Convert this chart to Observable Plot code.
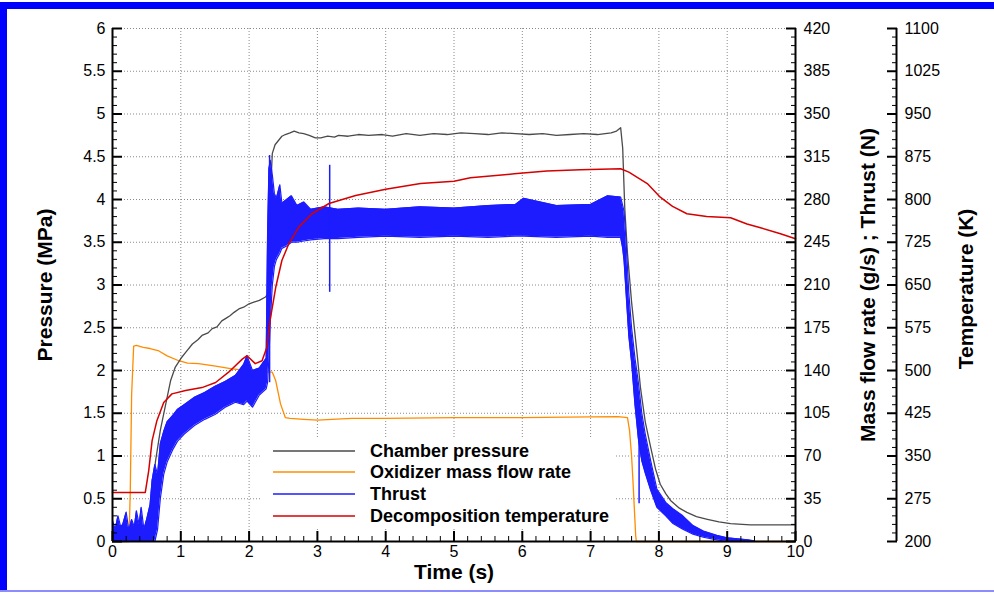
<!DOCTYPE html>
<html><head><meta charset="utf-8">
<script src="https://cdn.jsdelivr.net/npm/d3@7"></script>
<script src="https://cdn.jsdelivr.net/npm/@observablehq/plot@0.6"></script>
<style>
html,body{margin:0;padding:0;background:#fff;}
#wrap{position:relative;width:994px;height:594px;overflow:hidden;font-family:"Liberation Sans",Arial,sans-serif;background:#fff;}
#wrap svg{position:absolute;left:0;top:0;}
.bar{position:absolute;}
#legend{position:absolute;left:262px;top:437px;width:352px;height:91px;background:#fff;}
.sw{position:absolute;left:11px;width:82px;height:2px;}
.lt{position:absolute;left:108px;font-weight:bold;font-size:18px;line-height:20px;white-space:nowrap;color:#000;}
</style></head>
<body><div id="wrap"></div>
<script>
// ---- tick labels ----
const timeTicks = [0,1,2,3,4,5,6,7,8,9,10];
const pressureTicks = [0,0.5,1,1.5,2,2.5,3,3.5,4,4.5,5,5.5,6];
const massTicks = [0,35,70,105,140,175,210,245,280,315,350,385,420];
const tempTicks = [200,275,350,425,500,575,650,725,800,875,950,1025,1100];

// ---- series ----
const seriesNames = ["Chamber pressure","Oxidizer mass flow rate","Thrust","Decomposition temperature"];
const seriesColors = ["#4a4a4a","#ff8c00","#1c1cff","#d60000"];

// Chamber pressure (MPa)
const chamberTime = [0,0.45,0.52,0.57,0.63,0.70,0.78,0.85,0.92,1.00,1.08,1.17,1.25,1.31,1.40,1.46,1.53,1.60,1.66,1.72,1.78,1.85,1.92,2.00,2.07,2.15,2.24,2.28,2.30,2.32,2.34,2.38,2.43,2.48,2.53,2.60,2.66,2.73,2.80,2.88,2.97,3.05,3.15,3.25,3.31,3.45,3.60,3.75,3.95,4.10,4.30,4.50,4.70,4.90,5.10,5.30,5.50,5.70,5.90,6.10,6.30,6.50,6.70,6.90,7.10,7.30,7.38,7.44,7.47,7.50,7.54,7.60,7.68,7.73,7.80,7.88,7.95,8.02,8.10,8.17,8.30,8.41,8.55,8.71,8.88,9.05,9.34,10];
const chamberPressure = [0.1,0.1,0.2,0.5,0.94,1.30,1.61,1.88,2.04,2.14,2.22,2.31,2.36,2.41,2.44,2.49,2.51,2.58,2.61,2.64,2.68,2.72,2.74,2.78,2.80,2.82,2.86,2.90,3.60,4.20,4.54,4.64,4.69,4.74,4.76,4.78,4.80,4.78,4.77,4.75,4.72,4.72,4.74,4.73,4.75,4.74,4.76,4.75,4.76,4.74,4.77,4.75,4.77,4.76,4.78,4.77,4.76,4.78,4.77,4.76,4.77,4.75,4.76,4.77,4.76,4.78,4.80,4.84,4.60,3.90,3.37,2.80,2.20,1.80,1.40,1.10,0.85,0.67,0.56,0.48,0.39,0.34,0.29,0.26,0.23,0.21,0.195,0.195];

// Oxidizer mass flow rate (g/s)
const oxTime = [0,0.24,0.26,0.28,0.31,0.35,0.45,0.55,0.68,0.80,0.97,1.10,1.26,1.51,1.75,2.09,2.34,2.39,2.46,2.53,2.60,2.80,3.00,3.50,4.00,5.00,6.00,7.00,7.40,7.54,7.57,7.60,7.62,7.66,7.67,10];
const oxFlow = [0,0,40,120,160,160.5,159,158,156,152,148,146,145.6,143.5,141.4,139.3,138.6,131.6,112.7,101.5,100.8,100,99.4,100.8,100.8,101.5,101.5,102,102.2,101.5,91,70,50,5,0,0];

// Thrust (N): envelope of the noisy signal
const thrustTime = [0,0.04,0.08,0.12,0.15,0.20,0.24,0.28,0.32,0.35,0.39,0.42,0.46,0.50,0.55,0.58,0.62,0.66,0.70,0.75,0.80,0.88,0.95,1.05,1.20,1.35,1.50,1.65,1.80,1.92,1.97,2.05,2.15,2.25,2.27,2.29,2.31,2.34,2.37,2.40,2.45,2.48,2.55,2.62,2.70,2.80,2.90,3.10,3.30,3.60,4.00,4.50,5.00,5.50,5.90,6.02,6.50,7.00,7.25,7.44,7.47,7.49,7.52,7.56,7.60,7.65,7.70,7.75,7.80,7.88,7.97,8.10,8.20,8.35,8.50,8.65,8.85,9.00,9.30,9.40];
const thrustLow  = [0,0,0,0,0,0,0,0,0,0,0,0,0,0,0,0,0,10,35,55,65,75,82,88,95,100,104,110,114,112,115,110,120,125,130,150,180,210,225,231,236,240,242,245,245,246,247,248,248,249,250,249,250,249,250,250,249,250,249,249,240,230,203,168,147,112,84,66,56,42,28,21,15,10,6,3.5,1.4,0,0,0];
const thrustHigh = [17,10,21,12,14,24,9,18,12,25,14,28,10,18,30,50,63,55,80,90,98,103,108,112,118,122,127,131,136,145,152,140,142,150,250,305,312,300,285,281,292,277,280,283,275,278,272,274,272,273,272,274,273,275,276,281,275,276,283,282,275,270,245,203,175,150,130,105,88,66,43,32,27,21,13,8.5,5,3,1.4,0.5];
// isolated thrust spikes
const spikeTime = [2.30,3.18,7.71];
const spikeLow  = [130,204,31];
const spikeHigh = [316,308,110];

// Decomposition temperature (K)
const tempTime = [0,0.48,0.53,0.58,0.65,0.75,0.87,1.07,1.31,1.51,1.70,1.90,1.97,2.09,2.19,2.26,2.29,2.31,2.39,2.48,2.58,2.73,2.92,3.17,3.56,4.00,4.51,5.00,5.24,5.88,6.36,6.85,7.44,7.56,7.83,8.02,8.20,8.41,8.70,9.05,9.29,9.50,9.78,10];
const tempK = [286,286,324,377,412,444,459,465,470,479,497,520,526,512,517,541,570,590,646,693,722,752,775,793,807,818,828,832,838,845,850,852,854,848,828,804,788,775,770,768,757,750,740,731];

// ---- secondary axes share the pressure scale (0–6 MPa ↔ 0–420 g/s ↔ 200–1100 K) ----
const massPerMPa = 70, tempBase = 200, tempPerMPa = 150;

const chamber = chamberTime.map((t,i)=>({t, v: chamberPressure[i]}));
const ox = oxTime.map((t,i)=>({t, v: oxFlow[i]/massPerMPa}));
const thrust = thrustTime.map((t,i)=>({t, lo: thrustLow[i]/massPerMPa, hi: thrustHigh[i]/massPerMPa}));
const spikes = spikeTime.map((t,i)=>({t, lo: spikeLow[i]/massPerMPa, hi: spikeHigh[i]/massPerMPa}));
const temp = tempTime.map((t,i)=>({t, v: (tempK[i]-tempBase)/tempPerMPa}));

const minorY = d3.range(0, 61).map(i => i/10).filter(v => Math.abs(v*2 - Math.round(v*2)) > 1e-6);
const minorX = d3.range(0, 51).map(i => i/5).filter(v => Math.abs(v - Math.round(v)) > 1e-6);

const tempDx = 101;
const gridStyle = {stroke:"#8a8a8a", strokeOpacity:1, strokeWidth:1, strokeDasharray:"1,2"};
const titleStyle = {text: d=>d, fontSize:21, fontWeight:"bold", textAnchor:"middle"};

const chart = Plot.plot({
  width: 994, height: 594,
  marginLeft: 112, marginRight: 199, marginTop: 28, marginBottom: 53,
  x: {domain: [0,10]},
  y: {domain: [0,6]},
  style: {fontFamily: '"Liberation Sans", Arial, sans-serif', fontSize: "16px", color: "#000", background: "transparent", overflow: "visible"},
  marks: [
    Plot.gridX(timeTicks.slice(1,-1), gridStyle),
    Plot.gridY(pressureTicks.slice(1), gridStyle),
    Plot.lineY(ox, {x:"t", y:"v", stroke: seriesColors[1], strokeWidth: 1.3}),
    Plot.lineY(chamber, {x:"t", y:"v", stroke: seriesColors[0], strokeWidth: 1.3}),
    Plot.areaY(thrust, {x:"t", y1:"lo", y2:"hi", fill: seriesColors[2]}),
    Plot.lineY(thrust, {x:"t", y:"lo", stroke: seriesColors[2], strokeWidth: 1.2}),
    Plot.lineY(thrust, {x:"t", y:"hi", stroke: seriesColors[2], strokeWidth: 1.2}),
    Plot.ruleX(spikes, {x:"t", y1:"lo", y2:"hi", stroke: seriesColors[2], strokeWidth: 1.5}),
    Plot.lineY(temp, {x:"t", y:"v", stroke: seriesColors[3], strokeWidth: 1.5}),
    // axis lines
    Plot.ruleX([0], {stroke:"#000", strokeWidth:2}),
    Plot.ruleX([10], {stroke:"#000", strokeWidth:2}),
    Plot.ruleY([0], {stroke:"#000", strokeWidth:2}),
    Plot.ruleX([10], {stroke:"#000", strokeWidth:2, dx: tempDx}),
    // left axis (pressure)
    Plot.axisY(pressureTicks, {anchor:"left", tickSize:-10, strokeWidth:2, tickPadding:17, tickFormat: d => String(d), label:null}),
    Plot.axisY(minorY, {anchor:"left", tickSize:-5, strokeWidth:1, fill:"none", label:null}),
    // right axis (mass flow / thrust)
    Plot.axisY(massTicks.map(v=>v/massPerMPa), {anchor:"right", tickSize:-10, strokeWidth:2, tickPadding:18, tickFormat: d => String(Math.round(d*massPerMPa)), label:null}),
    Plot.axisY(minorY, {anchor:"right", tickSize:-5, strokeWidth:1, fill:"none", label:null}),
    // temperature axis
    Plot.axisY(tempTicks.map(v=>(v-tempBase)/tempPerMPa), {anchor:"right", dx: tempDx, tickSize:-10, strokeWidth:2, tickPadding:18, tickFormat: d => String(Math.round(d*tempPerMPa+tempBase)), label:null}),
    Plot.axisY(minorY, {anchor:"right", dx: tempDx, tickSize:-5, strokeWidth:1, fill:"none", label:null}),
    // bottom axis (time)
    Plot.axisX(timeTicks, {anchor:"bottom", tickSize:-10, strokeWidth:2, tickPadding:14, tickFormat: d => String(d), label:null}),
    Plot.axisX(minorX, {anchor:"bottom", tickSize:-5, strokeWidth:1, fill:"none", label:null}),
    // axis titles
    Plot.text(["Pressure (MPa)"], {...titleStyle, frameAnchor:"left", dx:-67, rotate:-90}),
    Plot.text(["Mass flow rate (g/s) ; Thrust (N)"], {...titleStyle, frameAnchor:"right", dx:73, rotate:-90}),
    Plot.text(["Temperature (K)"], {...titleStyle, frameAnchor:"right", dx:171, dy:4, rotate:-90}),
    Plot.text(["Time (s)"], {...titleStyle, frameAnchor:"bottom", dy:37})
  ]
});

const wrap = document.getElementById("wrap");
wrap.appendChild(chart);

// frame bars
function bar(l,t,w,h,c){const d=document.createElement("div");d.className="bar";Object.assign(d.style,{left:l+"px",top:t+"px",width:w+"px",height:h+"px",background:c});wrap.appendChild(d);}
bar(0,2,994,7,"#0000ff");
bar(0,2,7,590,"#0000ff");
bar(0,590,994,2,"#8c8cff");

// legend
const legend = document.createElement("div");
legend.id = "legend";
const rowY = [14,35,57,79];
seriesNames.forEach((name,i)=>{
  const sw = document.createElement("div");
  sw.className = "sw";
  sw.style.top = (rowY[i]-1) + "px";
  sw.style.background = seriesColors[i];
  sw.style.opacity = "0.75";
  legend.appendChild(sw);
  const tx = document.createElement("div");
  tx.className = "lt";
  tx.style.top = (rowY[i]-10) + "px";
  tx.textContent = name;
  legend.appendChild(tx);
});
wrap.appendChild(legend);
</script>
</body></html>
